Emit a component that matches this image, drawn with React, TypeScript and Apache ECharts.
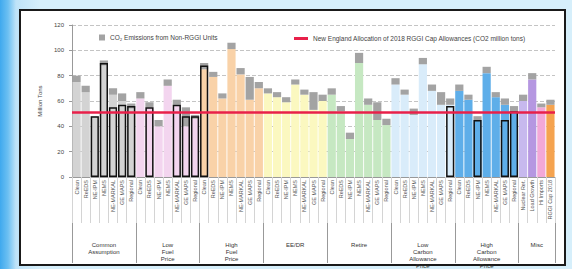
import React, { useEffect, useRef } from "react";
import * as echarts from "echarts";

const groupNames = [
  "Common\nAssumption",
  "Low\nFuel\nPrice",
  "High\nFuel\nPrice",
  "EE/DR",
  "Retire",
  "Low\nCarbon\nAllowance\nPrice",
  "High\nCarbon\nAllowance\nPrice",
  "Misc",
];
const groupSizes = [7, 7, 7, 7, 7, 7, 7, 4];
const groupColors = ["#d3d3d3", "#f3d5ef", "#f9d2a8", "#fbf8c0", "#c6e8c2", "#d9ecfa", "#5eaee9"];
const miscColors = ["#c7b9ee", "#b597e1", "#f3a8d7", "#f5a34f"];

const modelLabels = ["Clean", "ReEDS", "NE-IPM", "NEMS", "NE-MARKAL", "GE MAPS", "Regional"];
const miscLabels = ["Nuclear Ret.", "Load Growth", "Hi Imports", "RGGI Cap 2018"];

// CO2 emissions from RGGI units (million tons)
const rggiUnits = [
  75, 67, 48, 88, 65, 60, 54,
  62, 55, 40, 72, 57, 40, 46,
  85, 79, 62, 101, 81, 61, 70,
  66, 63, 59, 73, 65, 53, 60,
  65, 52, 30, 90, 57, 45, 41,
  73, 65, 49, 89, 68, 57, 57,
  68, 61, 45, 82, 63, 57, 52,
  60, 77, 55, 57,
];
// CO2 emissions from non-RGGI units (million tons)
const nonRggiUnits = [
  5, 5, 0, 4, 5, 6, 4,
  5, 4, 5, 5, 4, 15, 3,
  5, 4, 4, 5, 5, 18, 5,
  4, 4, 4, 4, 4, 14, 5,
  5, 4, 5, 8, 5, 14, 5,
  5, 4, 5, 5, 5, 10, 5,
  5, 4, 3, 5, 4, 5, 4,
  5, 5, 3, 4,
];
// highlighted (outlined) results
const outlinedValues: (number | null)[] = [
  null, null, 48, 90, 55, 57, 56,
  null, 55, null, null, 57, 48, 48,
  88, null, null, null, null, null, null,
  null, null, null, null, null, null, null,
  null, null, null, null, null, null, null,
  null, null, null, null, null, null, 56,
  null, null, 45, null, null, 45, 52,
  null, null, null, null,
];
const allocation2018 = 51;

export default function App() {
  const ref = useRef<HTMLDivElement>(null);

  useEffect(() => {
    document.body.style.margin = "0";
    if (!ref.current) return;
    const chart = echarts.init(ref.current, undefined, { renderer: "svg" });

    const categories: string[] = [];
    const colors: string[] = [];
    const boundaries = new Set<number>();
    const groupRanges: [number, number][] = [];
    let start = 0;
    groupSizes.forEach((size, g) => {
      boundaries.add(start);
      groupRanges.push([start, start + size - 1]);
      for (let i = 0; i < size; i++) {
        categories.push(g === 7 ? miscLabels[i] : modelLabels[i]);
        colors.push(g === 7 ? miscColors[i] : groupColors[g]);
      }
      start += size;
    });

    const font = "Liberation Sans, Arial, sans-serif";

    chart.setOption({
      animation: false,
      textStyle: { fontFamily: font },
      grid: { left: 72, right: 17, top: 25, bottom: 92, containLabel: false, outerBoundsMode: "none" },
      legend: [
        {
          data: [{ name: "CO₂ Emissions from Non-RGGI Units", icon: "rect" }],
          left: 94,
          top: 29,
          itemWidth: 6,
          itemHeight: 6,
          itemGap: 4,
          textStyle: { fontSize: 6.5, color: "#444", fontFamily: font },
        },
        {
          data: [{ name: "New England Allocation of 2018 RGGI Cap Allowances (CO2 million tons)", icon: "rect" }],
          left: 289,
          top: 30,
          itemWidth: 14,
          itemHeight: 3,
          itemGap: 4,
          textStyle: { fontSize: 6.5, color: "#444", fontFamily: font },
        },
      ],
      xAxis: [
        {
          type: "category",
          data: categories,
          position: "bottom",
          axisLine: { show: true, lineStyle: { color: "#999" } },
          axisTick: {
            show: true,
            interval: (i: number) => boundaries.has(i),
            length: 86,
            lineStyle: { color: "#999" },
          },
          axisLabel: {
            interval: 0,
            rotate: 90,
            fontSize: 5.5,
            margin: 3,
            color: "#555",
          },
        },
        {
          type: "category",
          data: categories,
          position: "bottom",
          offset: 0,
          axisLine: { show: false },
          axisTick: { show: true, interval: 0, length: 46, lineStyle: { color: "#d4d4d4" } },
          axisLabel: { show: false },
        },
      ],
      yAxis: {
        type: "value",
        min: 0,
        max: 120,
        interval: 20,
        name: "Million Tons",
        nameLocation: "middle",
        nameGap: 26,
        nameTextStyle: { fontSize: 6, color: "#444" },
        axisLine: { show: true, lineStyle: { color: "#999" } },
        axisTick: { show: true, length: 3, lineStyle: { color: "#999" } },
        axisLabel: { fontSize: 6, color: "#444", margin: 8 },
        splitLine: { show: true, lineStyle: { type: "dashed", color: "#c4c4c4" } },
      },
      series: [
        {
          name: "RGGI Units",
          type: "bar",
          stack: "total",
          barCategoryGap: "10%",
          data: rggiUnits.map((v, i) => ({ value: v, itemStyle: { color: colors[i] } })),
        },
        {
          name: "CO₂ Emissions from Non-RGGI Units",
          type: "bar",
          stack: "total",
          itemStyle: { color: "#a3a3a3" },
          data: nonRggiUnits,
        },
        {
          name: "Highlighted",
          type: "bar",
          barGap: "-100%",
          barCategoryGap: "10%",
          z: 3,
          itemStyle: { color: "rgba(0,0,0,0)", borderColor: "#111", borderWidth: 1.5 },
          data: outlinedValues.map((v) => (v == null ? "-" : v)),
        },
        {
          name: "New England Allocation of 2018 RGGI Cap Allowances (CO2 million tons)",
          type: "line",
          data: [],
          itemStyle: { color: "#e8204a" },
          lineStyle: { color: "#e8204a" },
          markLine: {
            symbol: ["none", "none"],
            silent: true,
            label: { show: false },
            lineStyle: { color: "#e8204a", width: 2.5, type: "solid" },
            data: [{ yAxis: allocation2018 }],
          },
          z: 5,
        },
      ],
    });

    // group labels centred under each group, positioned through the category axis
    const groupTexts = groupNames.map((name, g) => {
      const [a, b] = groupRanges[g];
      const xa = chart.convertToPixel({ xAxisIndex: 0 }, a) as number;
      const xb = chart.convertToPixel({ xAxisIndex: 0 }, b) as number;
      const y0 = chart.convertToPixel({ yAxisIndex: 0 }, 0) as number;
      return {
        type: "text",
        x: (xa + xb) / 2,
        y: y0 + 64,
        silent: true,
        style: {
          text: name,
          fill: "#333",
          fontSize: 6,
          fontFamily: font,
          lineHeight: 7,
          align: "center",
          verticalAlign: "top",
        },
      };
    });
    chart.setOption({ graphic: groupTexts });

    return () => chart.dispose();
  }, []);

  return (
    <div
      style={{
        position: "relative",
        width: 572,
        height: 269,
        background: "linear-gradient(to right, #3fa9ee 0px, #6cc0f2 8px, #bfe3f8 16px, #d6effb 40px, #d6effb 100%)",
        overflow: "hidden",
      }}
    >
      <div
        style={{
          position: "absolute",
          left: 19,
          top: 9,
          width: 543,
          height: 253,
          border: "2px solid #1a1a1a",
          background: "#ffffff",
        }}
      />
      <div ref={ref} style={{ position: "absolute", left: 0, top: 0, width: 572, height: 269 }} />
    </div>
  );
}
